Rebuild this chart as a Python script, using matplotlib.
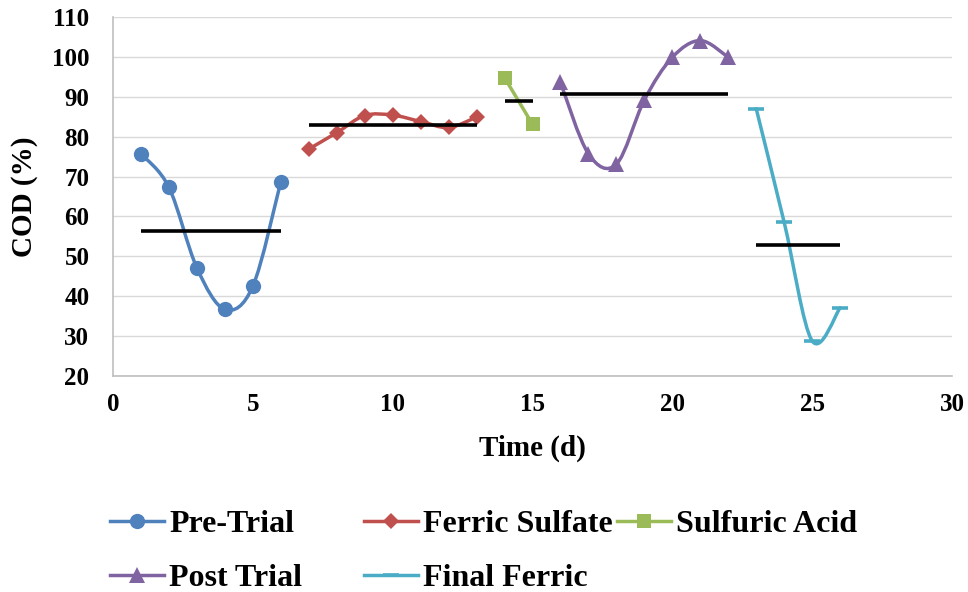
import matplotlib
matplotlib.use("Agg")
import matplotlib.pyplot as plt
import numpy as np
from matplotlib.lines import Line2D
from matplotlib.patches import PathPatch
from matplotlib.path import Path

# data
pre_x = [1, 2, 3, 4, 5, 6]
pre_y = [75.7, 67.3, 47.1, 36.7, 42.5, 68.7]

fs_x = [7, 8, 9, 10, 11, 12, 13]
fs_y = [76.9, 81.0, 85.3, 85.4, 83.8, 82.3, 84.9]

sa_x = [14, 15]
sa_y = [94.8, 83.1]

post_x = [16, 17, 18, 19, 20, 21, 22]
post_y = [93.6, 75.7, 73.1, 89.2, 99.9, 104.1, 99.9]

ff_x = [23, 24, 25, 26]
ff_y = [87.0, 58.5, 28.8, 37.1]

series = [
    ("Pre-Trial", pre_x, pre_y, "#4F81BD", "o", 11),
    ("Ferric Sulfate", fs_x, fs_y, "#C0504D", "D", 8.5),
    ("Sulfuric Acid", sa_x, sa_y, "#9BBB59", "s", 10.5),
    ("Post Trial", post_x, post_y, "#8064A2", "^", 12),
    ("Final Ferric", ff_x, ff_y, "#4BACC6", "_", 11),
]

FONT = "Liberation Serif"
plt.rcParams["font.family"] = FONT
plt.rcParams["font.weight"] = "bold"


def smooth_path(xs, ys):
    """Excel style smoothed line as a chain of cubic Bezier segments."""
    pts = np.column_stack([xs, ys]).astype(float)
    n = len(pts)
    verts = [pts[0]]
    codes = [Path.MOVETO]
    for i in range(n - 1):
        p_prev = pts[max(i - 1, 0)]
        p0 = pts[i]
        p1 = pts[i + 1]
        p_next = pts[min(i + 2, n - 1)]
        c1 = p0 + (p1 - p_prev) / 6.0
        c2 = p1 - (p_next - p0) / 6.0
        verts += [c1, c2, p1]
        codes += [Path.CURVE4] * 3
    return Path(verts, codes)


fig = plt.figure(figsize=(9.68, 5.92), dpi=100)
ax = fig.add_axes([113 / 968, 1 - 376 / 592, (952 - 113) / 968, (376 - 17) / 592])

handles = []
for name, xs, ys, color, marker, ms in series:
    patch = PathPatch(smooth_path(xs, ys), facecolor="none", edgecolor=color,
                      lw=2.5, zorder=3, capstyle="round", joinstyle="round")
    ax.add_patch(patch)
    mew = 2.6 if marker == "_" else 0
    ax.plot(xs, ys, linestyle="none", marker=marker, markersize=ms,
            color=color, markeredgewidth=mew, zorder=4)
    # mean line over the span of the series
    ax.hlines(np.mean(ys), xs[0], xs[-1], color="black", lw=2.6, zorder=5)
    handles.append(Line2D([], [], color=color, lw=2.5, marker=marker,
                          markersize=ms, markeredgewidth=mew))

ax.set_xlim(0, 30)
ax.set_ylim(20, 110)
ax.set_xticks(np.arange(0, 31, 5))
ax.set_yticks(np.arange(20, 111, 10))
ax.grid(axis="y", color="#D9D9D9", lw=1.0)
ax.set_axisbelow(True)
for side in ["top", "right"]:
    ax.spines[side].set_visible(False)
for side in ["left", "bottom"]:
    ax.spines[side].set_color("#BFBFBF")
    ax.spines[side].set_linewidth(1.2)
ax.tick_params(axis="both", length=0, labelsize=18)
ax.tick_params(axis="y", pad=17)
ax.tick_params(axis="x", pad=12)
for lab in ax.get_xticklabels() + ax.get_yticklabels():
    lab.set_fontweight("bold")

ax.set_xlabel("Time (d)", fontsize=21, fontweight="bold", labelpad=14)
ax.set_ylabel("COD (%)", fontsize=21, fontweight="bold", labelpad=10)

# legend laid out in Excel's fixed-width columns
cols = [
    ([handles[0], handles[3]], [series[0][0], series[3][0]], 110),
    ([handles[1], handles[4]], [series[1][0], series[4][0]], 364),
    ([handles[2]], [series[2][0]], 617),
]
for hs, labels, x0 in cols:
    leg = fig.legend(hs, labels, loc="upper left",
                     bbox_to_anchor=(x0 / 968, 1 - 510 / 592),
                     frameon=False, borderpad=0, borderaxespad=0,
                     handlelength=1.7, handletextpad=0.15, labelspacing=0.75,
                     prop={"family": FONT, "weight": "bold", "size": 23})

fig.savefig("out.png", dpi=100)
